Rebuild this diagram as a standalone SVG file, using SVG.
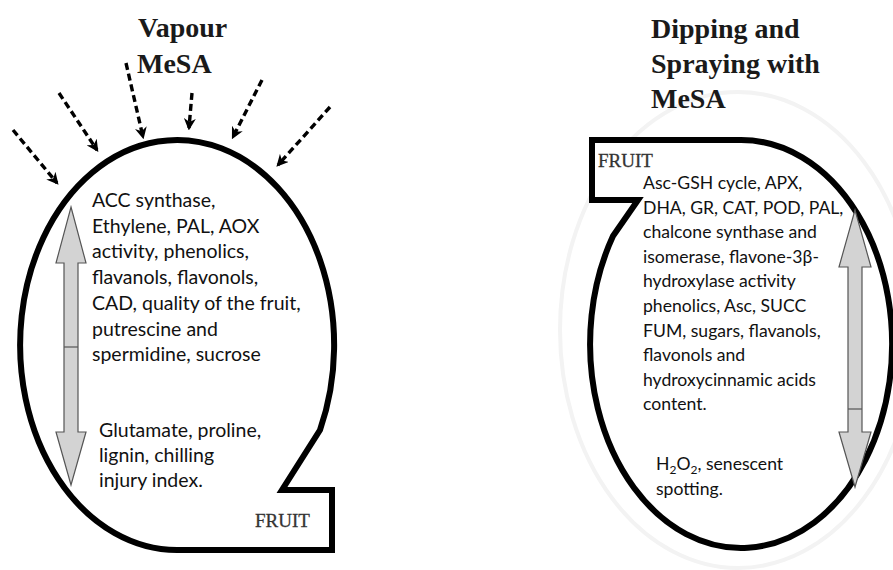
<svg xmlns="http://www.w3.org/2000/svg" width="893" height="570" viewBox="0 0 893 570">
<style>
.fruit{fill:#fff;stroke:#000;stroke-width:6;stroke-linejoin:miter}
.title{font-family:"Liberation Serif",serif;font-weight:bold;font-size:28px;fill:#1a1a1a}
.label{font-family:"Liberation Serif",serif;font-size:19px;fill:#333;stroke:#333;stroke-width:0.3}
.body{font-family:Lato,"Open Sans",sans-serif;fill:#111}
.l{font-size:19.5px}
.r{font-size:17.6px}
.dbl{fill:#d3d3d3;stroke:#555;stroke-width:1.2}
.dash{stroke:#000;stroke-width:3.4;stroke-dasharray:7 4;fill:none}
</style>
<defs>
<marker id="ah" viewBox="0 0 10 10" refX="8" refY="5" markerWidth="12" markerHeight="12" markerUnits="userSpaceOnUse" orient="auto">
<path d="M0,0 L10,5 L0,10 L3,5 Z" fill="#000"/>
</marker>
</defs>
<rect width="893" height="570" fill="#fff"/>
<ellipse cx="738" cy="330" rx="178" ry="238" fill="none" stroke="#f3f3f3" stroke-width="4"/>

<g id="vapour-title">
<text class="title" x="138" y="37">Vapour</text>
<text class="title" x="137" y="73">MeSA</text>
</g>

<g id="connectors">
<line class="dash" x1="13" y1="130" x2="57" y2="183" marker-end="url(#ah)"/>
<line class="dash" x1="59" y1="93" x2="97" y2="150" marker-end="url(#ah)"/>
<line class="dash" x1="126" y1="63" x2="143" y2="137" marker-end="url(#ah)"/>
<line class="dash" x1="192" y1="93" x2="189" y2="128" marker-end="url(#ah)"/>
<line class="dash" x1="262" y1="80" x2="233" y2="137" marker-end="url(#ah)"/>
<line class="dash" x1="330" y1="107" x2="278" y2="165" marker-end="url(#ah)"/>
</g>

<g id="fruit-left">
<path class="fruit" d="M282,490 L332,490 L332,550 L177,550 A157,205 0 1 1 320,430 Z"/>
<path class="dbl" d="M71,207 L86,263 L78,263 L78,432 L86,432 L71,485 L56,432 L64,432 L64,263 L56,263 Z"/>
<line x1="64" y1="347" x2="78" y2="347" stroke="#555" stroke-width="1.2"/>
<text class="body l" x="92">
<tspan x="92" y="207">ACC synthase,</tspan>
<tspan x="92" y="232.7">Ethylene, PAL, AOX</tspan>
<tspan x="92" y="258.4">activity, phenolics,</tspan>
<tspan x="92" y="284.1">flavanols, flavonols,</tspan>
<tspan x="92" y="309.8">CAD, quality of the fruit,</tspan>
<tspan x="92" y="335.5">putrescine and</tspan>
<tspan x="92" y="361.2">spermidine, sucrose</tspan>
</text>
<text class="body l">
<tspan x="99" y="437">Glutamate, proline,</tspan>
<tspan x="99" y="462">lignin, chilling</tspan>
<tspan x="99" y="487">injury index.</tspan>
</text>
<text class="label" x="255" y="527">FRUIT</text>
</g>

<g id="dipping-title">
<text class="title" x="651" y="38">Dipping and</text>
<text class="title" x="651" y="73">Spraying with</text>
<text class="title" x="651" y="108">MeSA</text>
</g>

<g id="fruit-right">
<path class="fruit" d="M638,200 L613,236 A151,204 0 1 0 741,140 L592,140 L592,200 Z"/>
<path class="dbl" d="M855,210 L871,267 L862,267 L862,432 L871,432 L855,487 L839,432 L848,432 L848,267 L839,267 Z"/>
<line x1="848" y1="409" x2="862" y2="409" stroke="#555" stroke-width="1.2"/>
<text class="label" x="598" y="167">FRUIT</text>
<text class="body r">
<tspan x="643" y="189">Asc-GSH cycle, APX,</tspan>
<tspan x="643" y="213.6">DHA, GR, CAT, POD, PAL,</tspan>
<tspan x="643" y="238.2">chalcone synthase and</tspan>
<tspan x="643" y="262.8">isomerase, flavone-3β-</tspan>
<tspan x="643" y="287.4">hydroxylase activity</tspan>
<tspan x="643" y="312">phenolics, Asc, SUCC</tspan>
<tspan x="643" y="336.6">FUM, sugars, flavanols,</tspan>
<tspan x="643" y="361.2">flavonols and</tspan>
<tspan x="643" y="385.8">hydroxycinnamic acids</tspan>
<tspan x="643" y="410.4">content.</tspan>
</text>
<text class="body r">
<tspan x="656" y="470">H<tspan font-size="12" dy="4">2</tspan><tspan dy="-4">O</tspan><tspan font-size="12" dy="4">2</tspan><tspan dy="-4">, senescent</tspan></tspan>
<tspan x="656" y="495">spotting.</tspan>
</text>
</g>
</svg>
